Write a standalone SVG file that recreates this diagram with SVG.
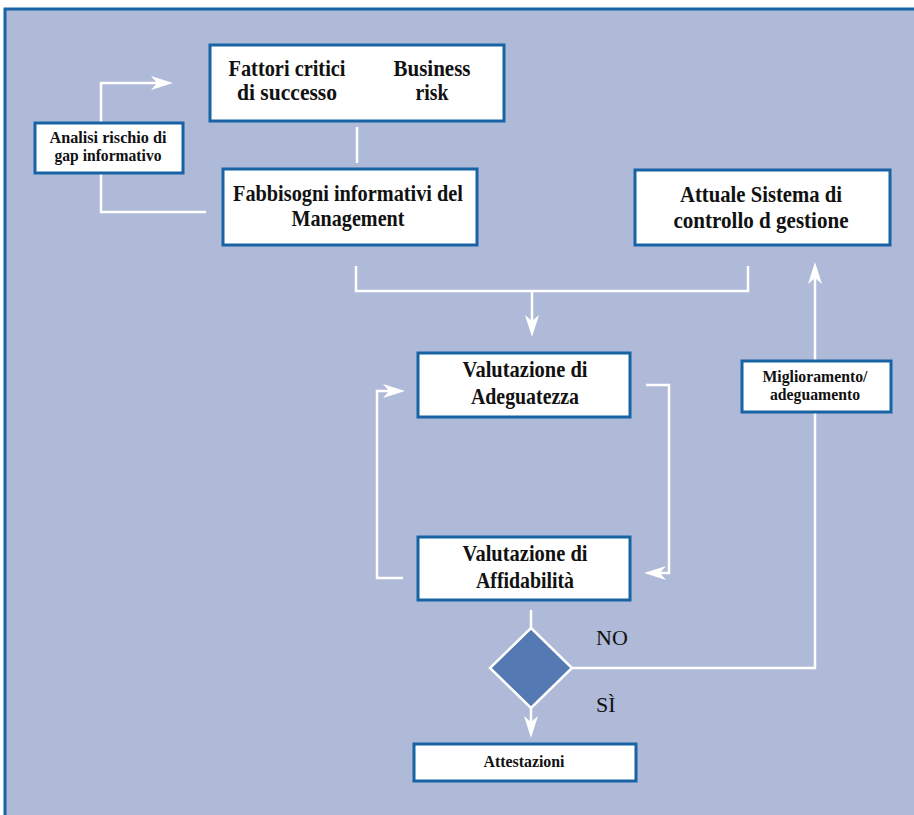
<svg xmlns="http://www.w3.org/2000/svg" width="914" height="815" viewBox="0 0 914 815">
<defs>
<style>
.frame{fill:#afb9d8;stroke:#1763a3;stroke-width:3}
.box{fill:#ffffff;stroke:#1763a3;stroke-width:3}
.dia{fill:#5479b3;stroke:#ffffff;stroke-width:2.5}
.ln{fill:none;stroke:#ffffff;stroke-width:2.5}
.t{font-family:"Liberation Serif","Times New Roman",serif;font-weight:bold;font-size:24px;fill:#111111;text-anchor:middle}
.s{font-family:"Liberation Serif","Times New Roman",serif;font-weight:bold;font-size:17px;fill:#111111;text-anchor:middle}
.lbl{font-family:"Liberation Serif","Times New Roman",serif;font-size:22px;fill:#111111}
</style>
<marker id="ah" markerUnits="userSpaceOnUse" markerWidth="30" markerHeight="16" refX="12" refY="8" orient="auto" overflow="visible">
<path d="M22,8 L0,1 L6,8 L0,15 Z" fill="#ffffff"/>
</marker>
</defs>
<rect class="frame" x="5" y="9" width="930" height="830"/>
<g id="connectors">
<path class="ln" d="M357,127 V163"/>
<path class="ln" d="M206,212 H101 V83 H163" marker-end="url(#ah)"/>
<path class="ln" d="M356,266 V291 H748 V266"/>
<path class="ln" d="M532,291 V327" marker-end="url(#ah)"/>
<path class="ln" d="M646,385 H669 V573 H654" marker-end="url(#ah)"/>
<path class="ln" d="M403,578 H377 V391 H395" marker-end="url(#ah)"/>
<path class="ln" d="M531,610 V628"/>
<path class="ln" d="M531,708 V728" marker-end="url(#ah)"/>
<path class="ln" d="M572,668 H815 V272" marker-end="url(#ah)"/>
<text class="lbl" x="596" y="645">NO</text>
<text class="lbl" x="596" y="712">SÌ</text>
</g>
<g id="fattori">
<rect class="box" x="210" y="45" width="294" height="76"/>
<text class="t" x="287" y="76" font-size="23" textLength="117" lengthAdjust="spacingAndGlyphs">Fattori critici</text>
<text class="t" x="287" y="100" font-size="23" textLength="100" lengthAdjust="spacingAndGlyphs">di successo</text>
<text class="t" x="432" y="76" font-size="23" textLength="77" lengthAdjust="spacingAndGlyphs">Business</text>
<text class="t" x="432" y="100" font-size="23" textLength="33" lengthAdjust="spacingAndGlyphs">risk</text>
</g>
<g id="analisi">
<rect class="box" x="35" y="123" width="148" height="50"/>
<text class="s" x="108" y="143" textLength="117" lengthAdjust="spacingAndGlyphs">Analisi rischio di</text>
<text class="s" x="108" y="161" textLength="107" lengthAdjust="spacingAndGlyphs">gap informativo</text>
</g>
<g id="fabbisogni">
<rect class="box" x="223" y="169" width="254" height="76"/>
<text class="t" x="348" y="201" textLength="230" lengthAdjust="spacingAndGlyphs">Fabbisogni informativi del</text>
<text class="t" x="348" y="226" textLength="113" lengthAdjust="spacingAndGlyphs">Management</text>
</g>
<g id="attuale">
<rect class="box" x="635" y="170" width="255" height="75"/>
<text class="t" x="761" y="202" textLength="162" lengthAdjust="spacingAndGlyphs">Attuale Sistema di</text>
<text class="t" x="761" y="228" textLength="175" lengthAdjust="spacingAndGlyphs">controllo d gestione</text>
</g>
<g id="adeguatezza">
<rect class="box" x="418" y="353" width="212" height="64"/>
<text class="t" x="525" y="377" textLength="125" lengthAdjust="spacingAndGlyphs">Valutazione di</text>
<text class="t" x="525" y="404" textLength="108" lengthAdjust="spacingAndGlyphs">Adeguatezza</text>
</g>
<g id="miglioramento">
<rect class="box" x="742" y="361" width="149" height="51"/>
<text class="s" x="815" y="382" textLength="105" lengthAdjust="spacingAndGlyphs">Miglioramento/</text>
<text class="s" x="815" y="400" textLength="90" lengthAdjust="spacingAndGlyphs">adeguamento</text>
</g>
<g id="affidabilita">
<rect class="box" x="418" y="537" width="212" height="63"/>
<text class="t" x="525" y="561" textLength="125" lengthAdjust="spacingAndGlyphs">Valutazione di</text>
<text class="t" x="525" y="588" textLength="98" lengthAdjust="spacingAndGlyphs">Affidabilità</text>
</g>
<g id="decisione">
<path class="dia" d="M531,628 L572,668 L531,708 L490,668 Z"/>
</g>
<g id="attestazioni">
<rect class="box" x="414" y="744" width="222" height="37"/>
<text class="s" x="524" y="767" textLength="81" lengthAdjust="spacingAndGlyphs">Attestazioni</text>
</g>
</svg>
